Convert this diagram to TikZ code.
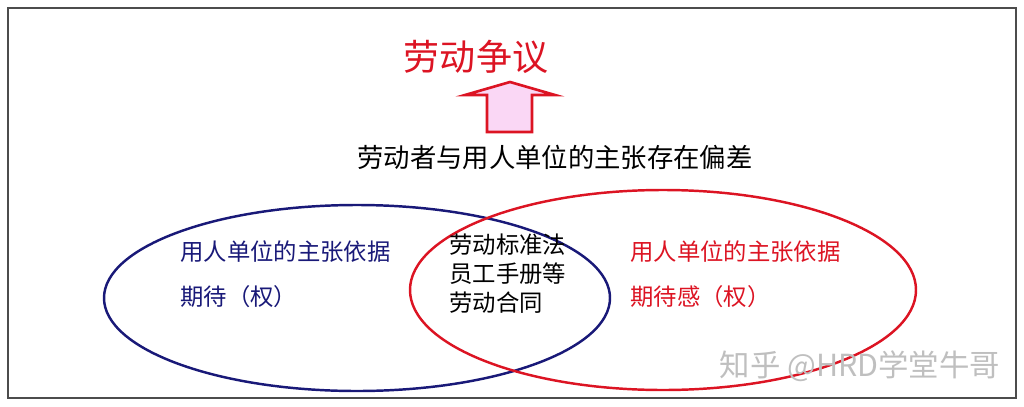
\documentclass[tikz,border=0pt]{standalone}
\usepackage{fontspec}
\setmainfont{Noto Sans CJK SC}
\definecolor{myred}{RGB}{220,20,35}
\definecolor{mynavy}{RGB}{25,25,120}
\definecolor{mypink}{RGB}{250,215,245}
\begin{document}
\begin{tikzpicture}[x=0.02cm,y=-0.02cm,
  lbl/.style={anchor=west,font=\fontsize{13.3}{15}\selectfont,inner sep=0},
  ell/.style={line width=1.4pt}]
\useasboundingbox (0,0) rectangle (1024,406);
\draw[line width=0.8pt,black!70] (8,8) rectangle (1016,398);
\node[text=myred,font=\fontsize{20.5}{23}\selectfont] (title) at (476,57) {劳动争议};
\draw[myred,line width=1.5pt,fill=mypink] (487,132) -- (487,95) -- (465,95) -- (510,82) -- (555,95) -- (532,95) -- (532,132) -- cycle;
\node[font=\fontsize{15}{17}\selectfont] (dev) at (555,157) {劳动者与用人单位的主张存在偏差};
\draw[ell,mynavy] (357,298) ellipse [x radius=253, y radius=93];
\draw[ell,myred] (663,290) ellipse [x radius=253, y radius=100];
\node[lbl,text=mynavy] (l1) at (180,252) {用人单位的主张依据};
\node[lbl,text=mynavy] (l2) at (180,297) {期待（权）};
\node[lbl,align=left,anchor=north west,font=\fontsize{13.3}{16.5}\selectfont] (mid) at (449,234) {劳动标准法\\员工手册等\\劳动合同};
\node[lbl,text=myred] (r1) at (630,252) {用人单位的主张依据};
\node[lbl,text=myred] (r2) at (630,297) {期待感（权）};
\node[text=black!25,font=\fontsize{17.3}{19}\selectfont] (wm) at (860,366) {知乎 @HRD学堂牛哥};
\end{tikzpicture}
\end{document}
